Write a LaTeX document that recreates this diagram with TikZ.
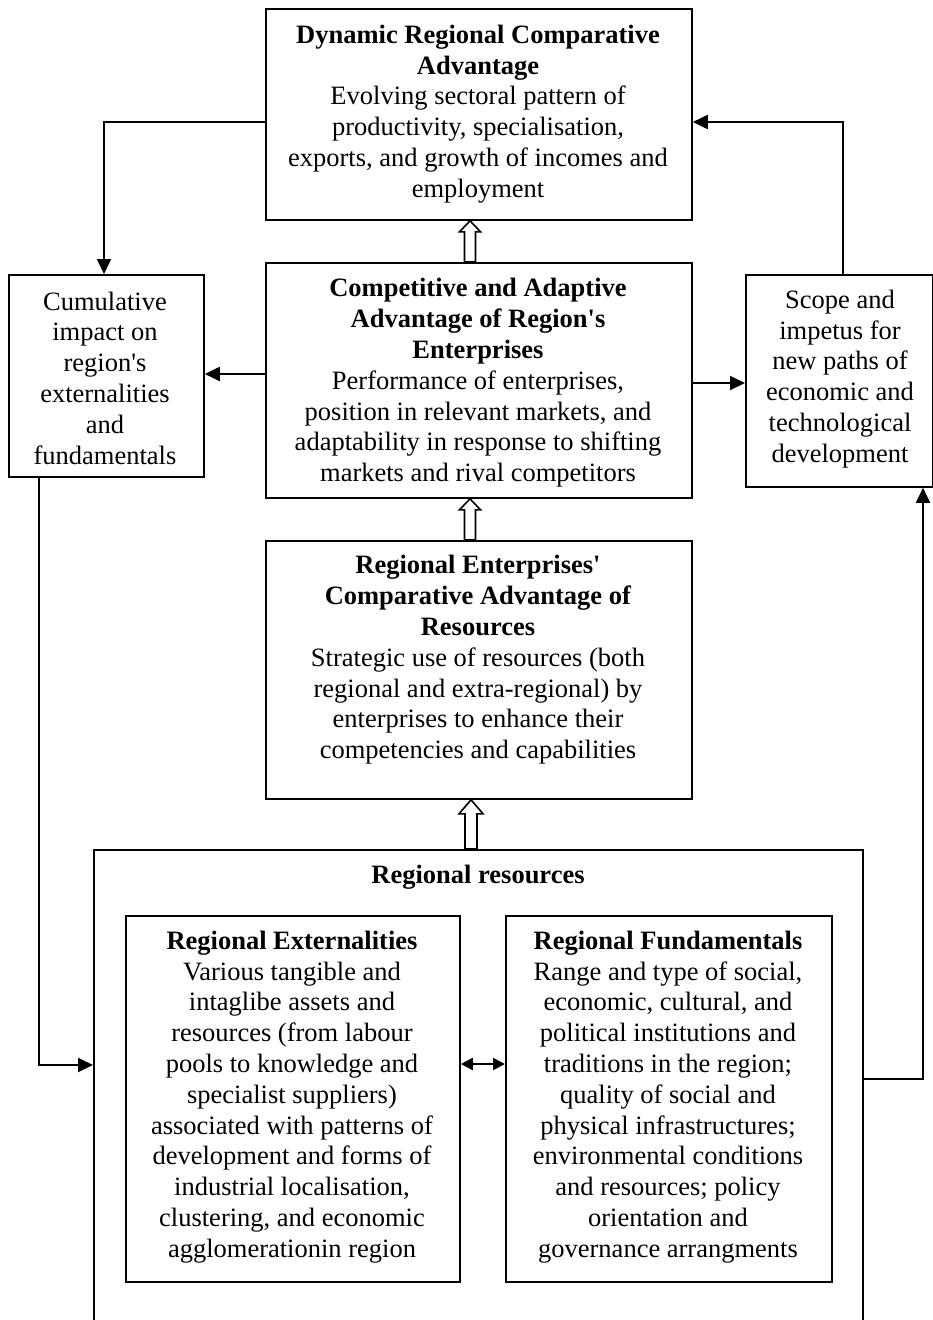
\documentclass[tikz,border=0pt]{standalone}
\usepackage{fontspec}
\setmainfont{Liberation Serif}
\usetikzlibrary{calc,arrows.meta}
\newcommand\hollowup[5]{%
\draw[hollow] ($(#1)+(-#3,0)$) -- ($(#2)+(-#3,-#5)$) -- ($(#2)+(-#4,-#5)$) -- (#2) -- ($(#2)+(#4,-#5)$) -- ($(#2)+(#3,-#5)$) -- ($(#1)+(#3,0)$) -- cycle;}
\newcommand\sq{\textquotesingle}
\begin{document}
\begin{tikzpicture}[x=1pt,y=1pt,
  box/.style={draw, line width=1.8pt, inner sep=0pt, anchor=north west},
  txt/.style={align=center, inner sep=0pt, font=\fontsize{26.5}{30.8}\selectfont},
  conn/.style={line width=1.9pt, -{Triangle[length=15pt,width=14pt]}},
  dconn/.style={line width=1.9pt, {Triangle[length=12pt,width=12pt]}-{Triangle[length=12pt,width=12pt]}},
  hollow/.style={draw, line width=1.6pt, fill=white, line join=miter}]
\clip (0,0) rectangle (933,-1320);
\fill[white] (0,0) rectangle (933,-1320);
% boxes
\node[box, minimum width=426pt, minimum height=211pt] (top) at (265,-8) {};
\node[box, minimum width=195pt, minimum height=202pt] (left) at (8,-274) {};
\node[box, minimum width=426pt, minimum height=235pt] (mid) at (265,-262) {};
\node[box, minimum width=187pt, minimum height=212pt] (right) at (745,-274) {};
\node[box, minimum width=426pt, minimum height=258pt] (res) at (265,-540) {};
\node[box, minimum width=769pt, minimum height=520pt] (rr) at (93,-849) {};
\node[box, minimum width=334pt, minimum height=366pt] (ext) at (125,-915) {};
\node[box, minimum width=326pt, minimum height=366pt] (fun) at (505,-915) {};
% texts
\node[txt] (ttop) at (478,-114) {\textbf{Dynamic Regional Comparative}\\\textbf{Advantage}\\Evolving sectoral pattern of\\productivity, specialisation,\\exports, and growth of incomes and\\employment};
\node[txt] (tmid) at (478,-383) {\textbf{Competitive and Adaptive}\\\textbf{Advantage of Region\sq s}\\\textbf{Enterprises}\\Performance of enterprises,\\position in relevant markets, and\\adaptability in response to shifting\\markets and rival competitors};
\node[txt] (tres) at (478,-660) {\textbf{Regional Enterprises\sq}\\\textbf{Comparative Advantage of}\\\textbf{Resources}\\Strategic use of resources (both\\regional and extra-regional) by\\enterprises to enhance their\\competencies and capabilities};
\node[txt] (tleft) at (105,-378) {Cumulative\\impact on\\region\sq s\\externalities\\and\\fundamentals};
\node[txt] (tright) at (840,-379) {Scope and\\impetus for\\new paths of\\economic and\\technological\\development};
\node[txt] (trr) at (478,-877) {\textbf{Regional resources}};
\node[txt] (text) at (292,-1097) {\textbf{Regional Externalities}\\Various tangible and\\intaglibe assets and\\resources (from labour\\pools to knowledge and\\specialist suppliers)\\associated with patterns of\\development and forms of\\industrial localisation,\\clustering, and economic\\agglomerationin region};
\node[txt] (tfun) at (668,-1097) {\textbf{Regional Fundamentals}\\Range and type of social,\\economic, cultural, and\\political institutions and\\traditions in the region;\\quality of social and\\physical infrastructures;\\environmental conditions\\and resources; policy\\orientation and\\governance arrangments};
% connectors
\coordinate (c1) at (104,-122);
\draw[conn] (top.west |- c1) -- (c1) -- (left.north -| c1);
\coordinate (c2) at (843,-122);
\draw[conn] (right.north -| c2) -- (c2) -- (top.east |- c2);
\coordinate (c3) at (0,-374);
\draw[conn] (mid.west |- c3) -- (left.east |- c3);
\coordinate (c4) at (0,-383);
\draw[conn] (mid.east |- c4) -- (right.west |- c4);
\coordinate (c5) at (39,-1065);
\draw[conn] (left.south -| c5) -- (c5) -- (rr.west |- c5);
\coordinate (c6) at (923,-1079);
\draw[conn] (rr.east |- c6) -- (c6) -- (right.south -| c6);
\coordinate (c7) at (0,-1064);
\draw[dconn] (ext.east |- c7) -- (fun.west |- c7);
% hollow arrows
\coordinate (h1) at (470,0);
\coordinate (a1) at (mid.north -| h1);
\coordinate (b1) at (top.south -| h1);
\hollowup{a1}{b1}{5.5}{10.5}{11}
\coordinate (a2) at (res.north -| h1);
\coordinate (b2) at (mid.south -| h1);
\hollowup{a2}{b2}{5.5}{10.5}{11}
\coordinate (h3) at (471,0);
\coordinate (a3) at (rr.north -| h3);
\coordinate (b3) at (res.south -| h3);
\hollowup{a3}{b3}{6}{12}{14}
\end{tikzpicture}
\end{document}
